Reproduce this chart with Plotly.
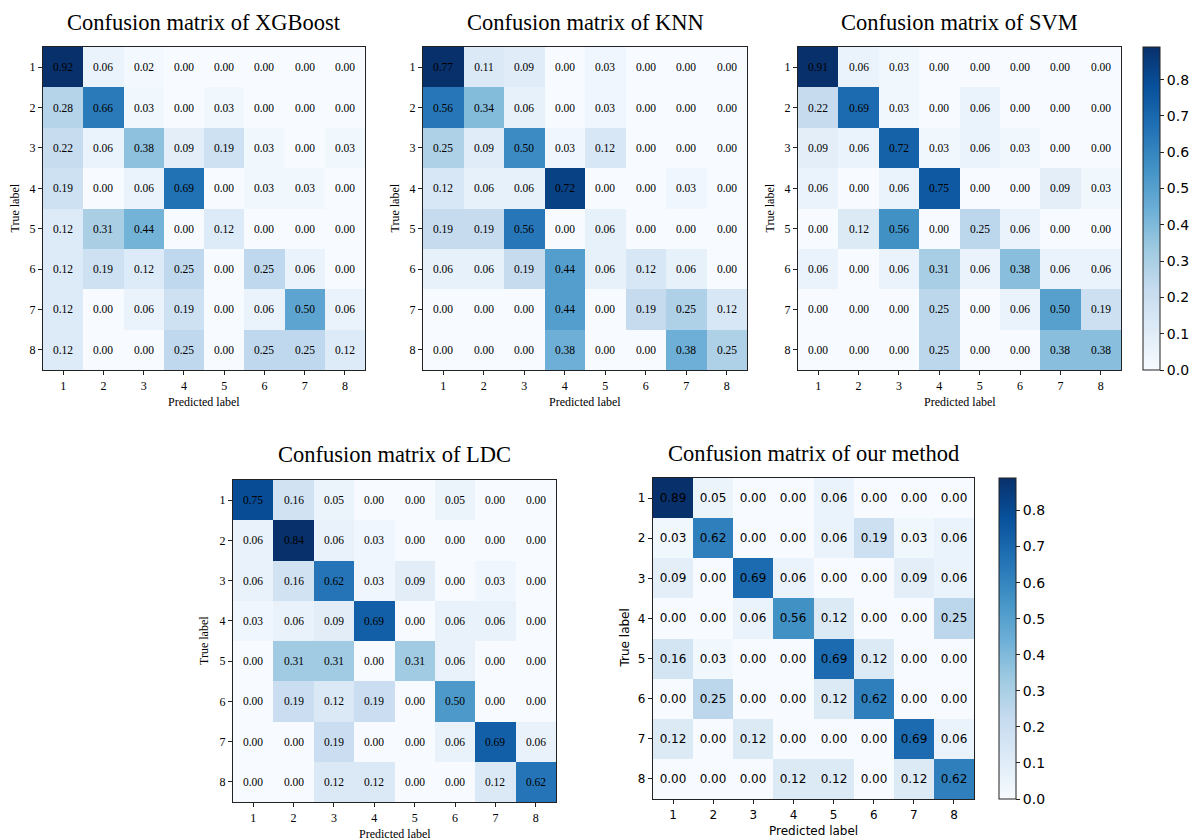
import plotly.graph_objects as go

labels = [1, 2, 3, 4, 5, 6, 7, 8]

xgboost = [
    [0.92, 0.06, 0.02, 0.00, 0.00, 0.00, 0.00, 0.00],
    [0.28, 0.66, 0.03, 0.00, 0.03, 0.00, 0.00, 0.00],
    [0.22, 0.06, 0.38, 0.09, 0.19, 0.03, 0.00, 0.03],
    [0.19, 0.00, 0.06, 0.69, 0.00, 0.03, 0.03, 0.00],
    [0.12, 0.31, 0.44, 0.00, 0.12, 0.00, 0.00, 0.00],
    [0.12, 0.19, 0.12, 0.25, 0.00, 0.25, 0.06, 0.00],
    [0.12, 0.00, 0.06, 0.19, 0.00, 0.06, 0.50, 0.06],
    [0.12, 0.00, 0.00, 0.25, 0.00, 0.25, 0.25, 0.12],
]
knn = [
    [0.77, 0.11, 0.09, 0.00, 0.03, 0.00, 0.00, 0.00],
    [0.56, 0.34, 0.06, 0.00, 0.03, 0.00, 0.00, 0.00],
    [0.25, 0.09, 0.50, 0.03, 0.12, 0.00, 0.00, 0.00],
    [0.12, 0.06, 0.06, 0.72, 0.00, 0.00, 0.03, 0.00],
    [0.19, 0.19, 0.56, 0.00, 0.06, 0.00, 0.00, 0.00],
    [0.06, 0.06, 0.19, 0.44, 0.06, 0.12, 0.06, 0.00],
    [0.00, 0.00, 0.00, 0.44, 0.00, 0.19, 0.25, 0.12],
    [0.00, 0.00, 0.00, 0.38, 0.00, 0.00, 0.38, 0.25],
]
svm = [
    [0.91, 0.06, 0.03, 0.00, 0.00, 0.00, 0.00, 0.00],
    [0.22, 0.69, 0.03, 0.00, 0.06, 0.00, 0.00, 0.00],
    [0.09, 0.06, 0.72, 0.03, 0.06, 0.03, 0.00, 0.00],
    [0.06, 0.00, 0.06, 0.75, 0.00, 0.00, 0.09, 0.03],
    [0.00, 0.12, 0.56, 0.00, 0.25, 0.06, 0.00, 0.00],
    [0.06, 0.00, 0.06, 0.31, 0.06, 0.38, 0.06, 0.06],
    [0.00, 0.00, 0.00, 0.25, 0.00, 0.06, 0.50, 0.19],
    [0.00, 0.00, 0.00, 0.25, 0.00, 0.00, 0.38, 0.38],
]
ldc = [
    [0.75, 0.16, 0.05, 0.00, 0.00, 0.05, 0.00, 0.00],
    [0.06, 0.84, 0.06, 0.03, 0.00, 0.00, 0.00, 0.00],
    [0.06, 0.16, 0.62, 0.03, 0.09, 0.00, 0.03, 0.00],
    [0.03, 0.06, 0.09, 0.69, 0.00, 0.06, 0.06, 0.00],
    [0.00, 0.31, 0.31, 0.00, 0.31, 0.06, 0.00, 0.00],
    [0.00, 0.19, 0.12, 0.19, 0.00, 0.50, 0.00, 0.00],
    [0.00, 0.00, 0.19, 0.00, 0.00, 0.06, 0.69, 0.06],
    [0.00, 0.00, 0.12, 0.12, 0.00, 0.00, 0.12, 0.62],
]
ours = [
    [0.89, 0.05, 0.00, 0.00, 0.06, 0.00, 0.00, 0.00],
    [0.03, 0.62, 0.00, 0.00, 0.06, 0.19, 0.03, 0.06],
    [0.09, 0.00, 0.69, 0.06, 0.00, 0.00, 0.09, 0.06],
    [0.00, 0.00, 0.06, 0.56, 0.12, 0.00, 0.00, 0.25],
    [0.16, 0.03, 0.00, 0.00, 0.69, 0.12, 0.00, 0.00],
    [0.00, 0.25, 0.00, 0.00, 0.12, 0.62, 0.00, 0.00],
    [0.12, 0.00, 0.12, 0.00, 0.00, 0.00, 0.69, 0.06],
    [0.00, 0.00, 0.00, 0.12, 0.12, 0.00, 0.12, 0.62],
]

titles = ["Confusion matrix of XGBoost", "Confusion matrix of KNN", "Confusion matrix of SVM",
          "Confusion matrix of LDC", "Confusion matrix of our method"]
matrices = [xgboost, knn, svm, ldc, ours]
zmaxes = [0.92, 0.77, 0.89, 0.84, 0.89]
colorbar_ticks = [0.0, 0.1, 0.2, 0.3, 0.4, 0.5, 0.6, 0.7, 0.8]

W, H = 1195, 840
# pixel boxes: left, right, top, bottom
boxes = [(43, 365, 47, 370), (423, 747, 47, 370), (798, 1121, 47, 370),
         (233, 556, 480, 802), (653, 974, 478, 799)]
serif = "Liberation Serif"
sans = "DejaVu Sans"
fonts = [serif, serif, serif, serif, sans]
cell_sizes = [11.5, 11.5, 11.5, 11.5, 12]
tick_sizes = [12, 12, 12, 12, 12]
title_sizes = [12, 12, 12, 12, 12]
blues = ['rgb(247,251,255)', 'rgb(222,235,247)', 'rgb(198,219,239)', 'rgb(158,202,225)',
         'rgb(107,174,214)', 'rgb(66,146,198)', 'rgb(33,113,181)', 'rgb(8,81,156)', 'rgb(8,48,107)']
cscale = [[i / 8, c] for i, c in enumerate(blues)]

fig = go.Figure()
annotations = []
for i, (m, t) in enumerate(zip(matrices, titles)):
    l, r, tp, b = boxes[i]
    k = i + 1
    xa = "x" if k == 1 else f"x{k}"
    ya = "y" if k == 1 else f"y{k}"
    text = [[f"{v:.2f}" for v in row] for row in m]
    hm = dict(
        z=m, x=labels, y=labels, text=text, texttemplate="%{text}",
        textfont=dict(family=fonts[i], size=cell_sizes[i], color="black"),
        colorscale=cscale, zmin=0, zmax=zmaxes[i], xaxis=xa, yaxis=ya,
        showscale=False, hoverinfo="skip",
    )
    if i in (2, 4):
        cb_left = 1143 if i == 2 else 999
        hm["showscale"] = True
        hm["colorbar"] = dict(
            x=cb_left / W, xanchor="left", xpad=0, ypad=0,
            y=1 - ((tp + b) / 2) / H, yanchor="middle",
            len=b - tp, lenmode="pixels", thickness=17, thicknessmode="pixels",
            outlinewidth=1, outlinecolor="#222",
            tickvals=colorbar_ticks, tickformat=".1f", ticks="outside", ticklen=4,
            tickcolor="#222", tickfont=dict(family=sans, size=14, color="black"),
        )
    fig.add_trace(go.Heatmap(**hm))
    axis_common = dict(
        showgrid=False, zeroline=False, showline=True, mirror=True,
        linecolor="#222", linewidth=1.2, ticks="outside", ticklen=4, tickwidth=1,
        tickcolor="#222", tickvals=labels, automargin=False,
        tickfont=dict(family=fonts[i], size=tick_sizes[i], color="black"),
    )
    fig.update_layout(**{
        ("xaxis" if k == 1 else f"xaxis{k}"): dict(
            domain=[l / W, r / W], anchor=ya, range=[0.5, 8.5], **axis_common),
        ("yaxis" if k == 1 else f"yaxis{k}"): dict(
            domain=[1 - b / H, 1 - tp / H], anchor=xa, range=[8.5, 0.5], **axis_common),
    })
    annotations.append(dict(
        text=t, x=(l + r) / 2 / W, y=1 - (tp - 25) / H, xref="paper", yref="paper",
        xanchor="center", yanchor="middle", showarrow=False,
        font=dict(family=serif, size=22.5, color="black")))
    annotations.append(dict(
        text="Predicted label", x=(l + r) / 2 / W, y=1 - (b + 32) / H, xref="paper", yref="paper",
        xanchor="center", yanchor="middle", showarrow=False,
        font=dict(family=fonts[i], size=title_sizes[i], color="black")))
    annotations.append(dict(
        text="True label", x=(l - 29) / W, y=1 - ((tp + b) / 2) / H, xref="paper", yref="paper",
        xanchor="center", yanchor="middle", showarrow=False, textangle=-90,
        font=dict(family=fonts[i], size=title_sizes[i], color="black")))

fig.update_layout(
    width=W, height=H, margin=dict(l=0, r=0, t=0, b=0, autoexpand=False),
    paper_bgcolor="white", plot_bgcolor="white",
    annotations=annotations,
)
fig.write_html(
    "out.html",
    config={"displayModeBar": False},
    post_script="document.body.style.margin='0';document.body.style.overflow='hidden';",
)
